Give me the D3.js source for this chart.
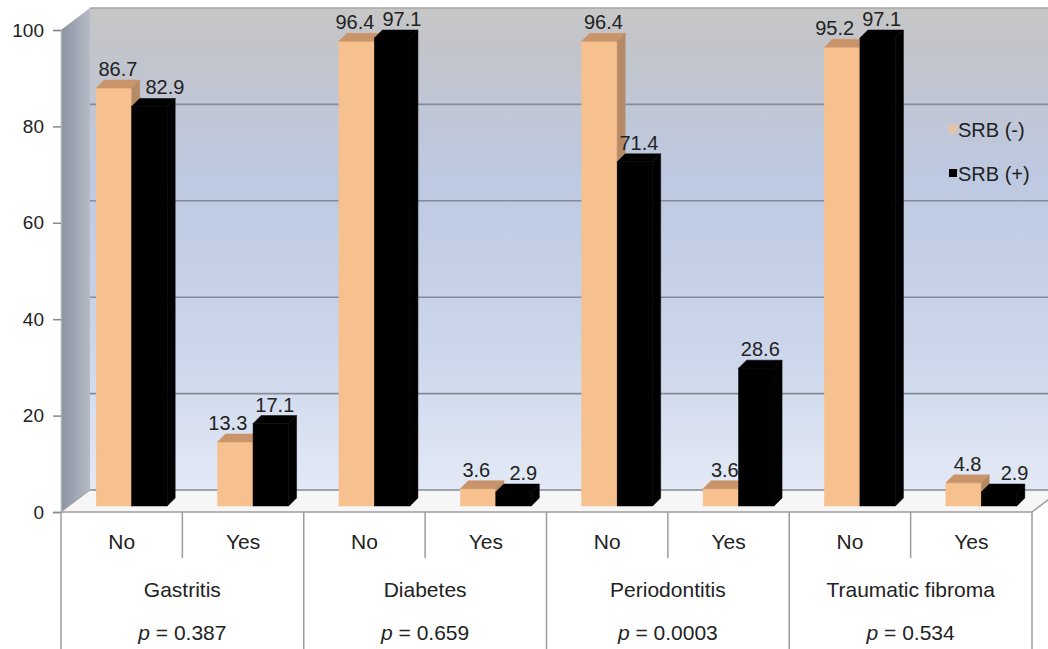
<!DOCTYPE html>
<html>
<head>
<meta charset="utf-8">
<script src="https://cdn.jsdelivr.net/npm/d3@7"></script>
<style>
  body { margin: 0; background: #fff; }
  text { font-family: "Liberation Sans", Arial, sans-serif; fill: #222; }
</style>
</head>
<body>
<div id="chart"></div>
<script>
// data
var conditions = ["Gastritis", "Diabetes", "Periodontitis", "Traumatic fibroma"];
var answers = ["No", "Yes"];
var pValues = ["0.387", "0.659", "0.0003", "0.534"];
var seriesNames = ["SRB (-)", "SRB (+)"];
var srbNeg = [86.7, 13.3, 96.4, 3.6, 96.4, 3.6, 95.2, 4.8];
var srbPos = [82.9, 17.1, 97.1, 2.9, 71.4, 28.6, 97.1, 2.9];
var yTicks = [0, 20, 40, 60, 80, 100];

var width = 1048, height = 649;
var colors = { front: ["#f7c08f", "#000"], top: ["#c9946a", "#000"], side: ["#b58b66", "#000"] };

// front plane and wall depth
var left = 61, right = 1032, frontTop = 30, frontBottom = 512;
var DX = 29, DY = 22;      // wall depth
var bx = 8, by = 8;        // bar depth
var barBase = 506, barShift = 10;

var svg = d3.select("#chart").append("svg")
    .attr("width", width)
    .attr("height", height);

var defs = svg.append("defs");
var wallGrad = defs.append("linearGradient").attr("id", "wall")
    .attr("gradientUnits", "userSpaceOnUse")
    .attr("x1", 0).attr("y1", frontTop - DY).attr("x2", 0).attr("y2", frontBottom - DY);
[[0, "#c7c7c7"], [0.08, "#c2c4ca"], [0.35, "#bdc9e1"], [0.7, "#cbd6eb"], [1, "#e3e9f5"]].forEach(function (s) {
    wallGrad.append("stop").attr("offset", s[0]).attr("stop-color", s[1]);
});
var sideGrad = defs.append("linearGradient").attr("id", "side")
    .attr("x1", 0).attr("y1", 0).attr("x2", 1).attr("y2", 0);
sideGrad.append("stop").attr("offset", 0).attr("stop-color", "#8a92a1");
sideGrad.append("stop").attr("offset", 1).attr("stop-color", "#b6bbc6");

var yFront = d3.scaleLinear().domain([0, 100]).range([frontBottom, frontTop]);
var yBack = d3.scaleLinear().domain([0, 100]).range([frontBottom - DY, frontTop - DY]);
var yBar = d3.scaleLinear().domain([0, 100]).range([barBase, barBase - (frontBottom - frontTop)]);

var subcats = d3.range(conditions.length * answers.length);
var x = d3.scaleBand().domain(subcats).range([left, right]);
var bw = x.bandwidth();
var xs = d3.scaleBand().domain([0, 1]).range([barShift, bw + barShift]).paddingOuter(0.71);

// back wall
svg.append("rect")
    .attr("x", left + DX).attr("y", yBack(100))
    .attr("width", width - left - DX).attr("height", yBack(0) - yBack(100))
    .attr("fill", "url(#wall)");

// side wall
svg.append("polygon")
    .attr("points", [[left, yFront(100)], [left + DX, yBack(100)], [left + DX, yBack(0)], [left, yFront(0)]].join(" "))
    .attr("fill", "url(#side)");

// floor
svg.append("polygon")
    .attr("points", [[left, frontBottom], [left + DX, frontBottom - DY], [right + DX, frontBottom - DY], [right, frontBottom]].join(" "))
    .attr("fill", "#f6f6f6");

// gridlines on the back wall
svg.append("g").selectAll("line")
    .data(yTicks).enter().append("line")
    .attr("x1", left + DX).attr("x2", width)
    .attr("y1", function (d) { return yBack(d); })
    .attr("y2", function (d) { return yBack(d); })
    .attr("stroke", function (d) { return d === 100 ? "#a6a6a6" : "#868b94"; })
    .attr("stroke-width", 1.6);

svg.append("line")
    .attr("x1", left).attr("y1", frontBottom).attr("x2", left + DX).attr("y2", frontBottom - DY)
    .attr("stroke", "#9a9a9a");
svg.append("line")
    .attr("x1", right).attr("y1", frontBottom).attr("x2", right + DX).attr("y2", frontBottom - DY)
    .attr("stroke", "#9a9a9a").attr("stroke-width", 1.5);

// y axis on the front plane
var yAxis = d3.axisLeft(yFront).tickValues(yTicks).tickSize(8).tickPadding(9);
var ay = svg.append("g").attr("transform", "translate(" + left + ",0)").call(yAxis);
ay.select(".domain").attr("stroke", "#b0b0b0").attr("stroke-width", 1.5);
ay.selectAll(".tick line").attr("stroke", "#888").attr("stroke-width", 1.5);
ay.selectAll(".tick text").style("font-size", "19px").attr("fill", "#222");

// bars
var bars = [];
subcats.forEach(function (i) {
    [srbNeg[i], srbPos[i]].forEach(function (v, s) {
        bars.push({ i: i, s: s, v: v, x0: x(i) + xs(s), w: xs.bandwidth() });
    });
});

var gb = svg.append("g");
bars.forEach(function (b) {
    var yt = yBar(b.v), g = gb.append("g");
    g.append("rect")
        .attr("x", b.x0).attr("y", yt)
        .attr("width", b.w).attr("height", barBase - yt)
        .attr("fill", colors.front[b.s])
        .attr("stroke", colors.front[b.s]).attr("stroke-width", 0.5);
    g.append("polygon")
        .attr("points", [[b.x0, yt], [b.x0 + bx, yt - by], [b.x0 + b.w + bx, yt - by], [b.x0 + b.w, yt]].join(" "))
        .attr("fill", colors.top[b.s])
        .attr("stroke", colors.top[b.s]).attr("stroke-width", 0.5);
    g.append("polygon")
        .attr("points", [[b.x0 + b.w, yt], [b.x0 + b.w + bx, yt - by], [b.x0 + b.w + bx, barBase - by], [b.x0 + b.w, barBase]].join(" "))
        .attr("fill", colors.side[b.s])
        .attr("stroke", colors.side[b.s]).attr("stroke-width", 0.5);
});

// value labels, nudged apart when a pair would collide
bars.forEach(function (b) {
    b.lx = b.x0 + b.w / 2 + bx / 2;
    b.ly = yBar(b.v) - by - 4;
});
subcats.forEach(function (i) {
    var a = bars[i * 2], c = bars[i * 2 + 1];
    var dy = Math.abs(a.ly - c.ly), need = 47 - (c.lx - a.lx);
    if (dy < 20 && need > 0) {
        if (dy < 5) { a.lx -= need / 2; c.lx += need / 2; }
        else if (a.ly > c.ly) a.lx -= need;
        else c.lx += need;
    }
});
svg.append("g").selectAll("text")
    .data(bars).enter().append("text")
    .attr("x", function (d) { return d.lx; })
    .attr("y", function (d) { return d.ly; })
    .attr("text-anchor", "middle")
    .style("font-size", "20px")
    .text(function (d) { return d.v.toFixed(1); });

// legend
var lg = svg.append("g").attr("transform", "translate(948,0)");
seriesNames.forEach(function (name, s) {
    var yy = 137 + s * 44;
    lg.append("rect")
        .attr("x", 1).attr("y", yy - 12)
        .attr("width", 8).attr("height", 8)
        .attr("fill", colors.front[s])
        .attr("opacity", s === 0 ? 0.8 : 1);
    lg.append("text")
        .attr("x", 10).attr("y", yy)
        .style("font-size", "20px")
        .text(name);
});

// table under the chart
var tb = svg.append("g");
var lineColor = "#9c9c9c";
tb.append("line")
    .attr("x1", left).attr("x2", right).attr("y1", frontBottom).attr("y2", frontBottom)
    .attr("stroke", lineColor).attr("stroke-width", 1.5);
subcats.concat([subcats.length]).forEach(function (i) {
    var xx = i < subcats.length ? x(i) : right;
    tb.append("line")
        .attr("x1", xx).attr("x2", xx)
        .attr("y1", frontBottom).attr("y2", i % 2 === 0 ? height : 558)
        .attr("stroke", lineColor).attr("stroke-width", 1.5);
});
tb.selectAll(".ans")
    .data(subcats).enter().append("text")
    .attr("x", function (i) { return x(i) + bw / 2; })
    .attr("y", 549)
    .attr("text-anchor", "middle")
    .style("font-size", "21px")
    .text(function (i) { return answers[i % 2]; });
tb.selectAll(".cond")
    .data(conditions).enter().append("text")
    .attr("x", function (d, k) { return x(k * 2 + 1); })
    .attr("y", 597)
    .attr("text-anchor", "middle")
    .style("font-size", "21px")
    .text(function (d) { return d; });
var pv = tb.selectAll(".pv")
    .data(pValues).enter().append("text")
    .attr("x", function (d, k) { return x(k * 2 + 1); })
    .attr("y", 640)
    .attr("text-anchor", "middle")
    .style("font-size", "21px");
pv.append("tspan").style("font-style", "italic").text("p");
pv.append("tspan").text(function (d) { return " = " + d; });
</script>
</body>
</html>
